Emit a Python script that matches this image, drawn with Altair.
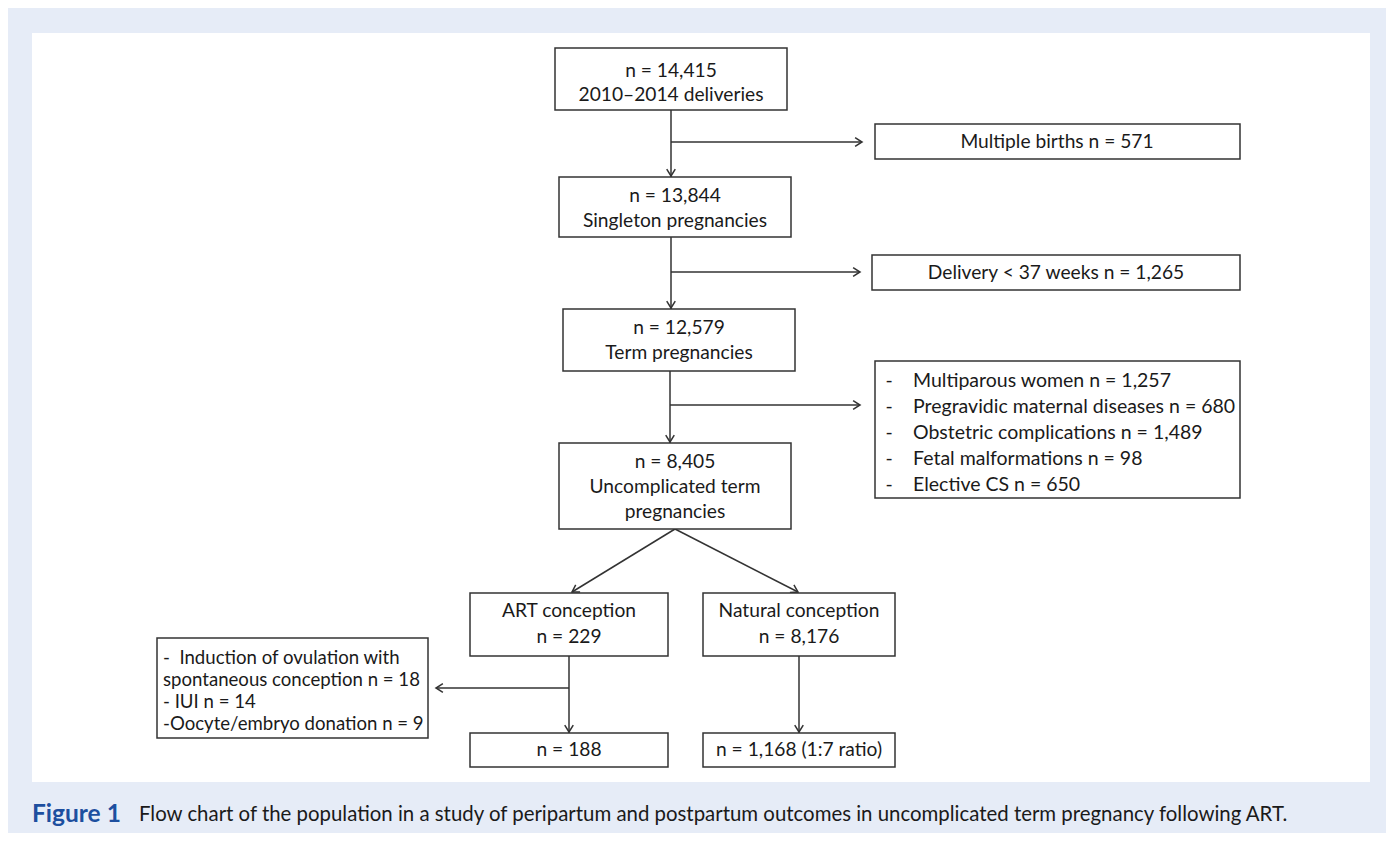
import altair as alt
import pandas as pd

# ---------------- data ----------------
# boxes of the flow chart (reference pixel coordinates)
BOX_NAME = ["total", "multiple", "singleton", "preterm", "term", "excluded",
            "uncomplicated", "art", "natural", "art_excluded", "art_final", "nat_final"]
BOX_X0 = [555, 875, 559, 872, 563, 875, 559, 470, 703, 157, 470, 703]
BOX_X1 = [787, 1240, 791, 1240, 795, 1240, 791, 668, 895, 428, 668, 895]
BOX_Y0 = [48, 124, 177, 255, 309, 361, 443, 593, 593, 638, 733, 733]
BOX_Y1 = [110, 159, 237, 290, 371, 498, 529, 656, 656, 738, 767, 767]

# connector lines
LINE_X0 = [671, 671, 671, 671, 670, 670, 675, 675, 569, 569, 799]
LINE_Y0 = [110, 142, 237, 272, 371, 405, 529, 529, 656, 688, 656]
LINE_X1 = [671, 862, 671, 860, 670, 860, 572, 798, 569, 436, 799]
LINE_Y1 = [177, 142, 309, 272, 443, 405, 592, 592, 733, 688, 733]

# arrow heads (tip positions and direction in degrees, clockwise from east)
HEAD_X = [671, 862, 671, 860, 670, 860, 572, 798, 569, 436, 799]
HEAD_Y = [176, 142, 308, 272, 442, 405, 592, 592, 732, 688, 732]
HEAD_ANGLE = [90, 0, 90, 0, 90, 0, 149, 28, 90, 180, 90]

# centred box labels
CENTER_TEXT = ["n = 14,415", "2010\u20132014 deliveries",
               "Multiple births n = 571",
               "n = 13,844", "Singleton pregnancies",
               "Delivery < 37 weeks n = 1,265",
               "n = 12,579", "Term pregnancies",
               "n = 8,405", "Uncomplicated term", "pregnancies",
               "ART conception", "n = 229",
               "Natural conception", "n = 8,176",
               "n = 188", "n = 1,168 (1:7 ratio)"]
CENTER_X = [671, 671, 1057, 675, 675, 1056, 679, 679, 675, 675, 675,
            569, 569, 799, 799, 569, 799]
CENTER_Y = [71, 95, 142, 196, 221, 273, 328, 353, 462, 487, 512,
            611, 637, 611, 637, 750, 750]

# exclusion list (after term pregnancies)
EXCL_TEXT = ["Multiparous women n = 1,257",
             "Pregravidic maternal diseases n = 680",
             "Obstetric complications n = 1,489",
             "Fetal malformations n = 98",
             "Elective CS n = 650"]
EXCL_Y = [381, 407, 433, 459, 485]
EXCL_DASH_X = 889
EXCL_TEXT_X = 913

# ART exclusions
ART_EXCL_TEXT = ["-\u00a0 Induction of ovulation with",
                 "spontaneous conception n = 18",
                 "- IUI n = 14",
                 "-Oocyte/embryo donation n = 9"]
ART_EXCL_Y = [658, 680, 702, 724]
ART_EXCL_X = 163

CAPTION_LABEL = "Figure 1"
CAPTION_TEXT = ("Flow chart of the population in a study of peripartum and postpartum "
                "outcomes in uncomplicated term pregnancy following ART.")

# ---------------- styling ----------------
FONT = "Lato"
BOX_FONT_SIZE = 19.2
LIST_FONT_SIZE = 19.5
ART_FONT_SIZE = 18.6
TEXT_COLOR = "#1a1a1a"
LINE_COLOR = "#333333"
BG = "#e6ecf7"

XS = alt.Scale(domain=[8, 1386], nice=False, zero=False)
YS = alt.Scale(domain=[8, 833], nice=False, zero=False, reverse=True)


def X(f):
    return alt.X(f, type="quantitative", scale=XS, axis=None)


def Y(f):
    return alt.Y(f, type="quantitative", scale=YS, axis=None)


panel = alt.Chart(pd.DataFrame({"x0": [32], "x1": [1370], "y0": [33], "y1": [782]})).mark_rect(
    fill="white").encode(x=X("x0"), x2="x1", y=Y("y0"), y2="y1")

boxes_df = pd.DataFrame({"name": BOX_NAME, "x0": BOX_X0, "x1": BOX_X1,
                         "y0": BOX_Y0, "y1": BOX_Y1})
boxes = alt.Chart(boxes_df).mark_rect(fill="white", stroke=LINE_COLOR, strokeWidth=1.5).encode(
    x=X("x0"), x2="x1", y=Y("y0"), y2="y1")

lines_df = pd.DataFrame({"x0": LINE_X0, "y0": LINE_Y0, "x1": LINE_X1, "y1": LINE_Y1})
lines = alt.Chart(lines_df).mark_rule(color=LINE_COLOR, strokeWidth=1.5).encode(
    x=X("x0"), y=Y("y0"), x2="x1", y2="y1")

heads_df = pd.DataFrame({"x": HEAD_X, "y": HEAD_Y, "a": HEAD_ANGLE})
heads = alt.Chart(heads_df).mark_point(
    shape="M -1 -0.62 L 0 0 L -1 0.62", filled=False, stroke=LINE_COLOR,
    strokeWidth=1.5, size=190, opacity=1).encode(
    x=X("x"), y=Y("y"), angle=alt.Angle("a:Q", scale=None))

center_df = pd.DataFrame({"t": CENTER_TEXT, "x": CENTER_X, "y": CENTER_Y})
center_text = alt.Chart(center_df).mark_text(
    font=FONT, fontSize=BOX_FONT_SIZE, color=TEXT_COLOR, align="center", baseline="middle").encode(
    x=X("x"), y=Y("y"), text="t:N")

excl_df = pd.DataFrame({"t": EXCL_TEXT, "y": EXCL_Y,
                        "dx": [EXCL_DASH_X] * len(EXCL_Y), "tx": [EXCL_TEXT_X] * len(EXCL_Y),
                        "dash": ["-"] * len(EXCL_Y)})
excl_dash = alt.Chart(excl_df).mark_text(
    font=FONT, fontSize=LIST_FONT_SIZE, color=TEXT_COLOR, align="center", baseline="middle").encode(
    x=X("dx"), y=Y("y"), text="dash:N")
excl_text = alt.Chart(excl_df).mark_text(
    font=FONT, fontSize=LIST_FONT_SIZE, color=TEXT_COLOR, align="left", baseline="middle").encode(
    x=X("tx"), y=Y("y"), text="t:N")

art_df = pd.DataFrame({"t": ART_EXCL_TEXT, "y": ART_EXCL_Y, "x": [ART_EXCL_X] * len(ART_EXCL_Y)})
art_text = alt.Chart(art_df).mark_text(
    font=FONT, fontSize=ART_FONT_SIZE, color=TEXT_COLOR, align="left", baseline="middle").encode(
    x=X("x"), y=Y("y"), text="t:N")

cap_df = pd.DataFrame({"t": [CAPTION_LABEL, CAPTION_TEXT], "x": [32, 139], "y": [815, 815],
                       "kind": ["label", "body"]})
cap_label = alt.Chart(cap_df[cap_df.kind == "label"]).mark_text(
    font=FONT, fontSize=24.5, fontWeight="bold", color="#1d4f9f", align="left", baseline="middle").encode(
    x=X("x"), y=Y("y"), text="t:N")
cap_body = alt.Chart(cap_df[cap_df.kind == "body"]).mark_text(
    font=FONT, fontSize=20.4, color=TEXT_COLOR, align="left", baseline="middle").encode(
    x=X("x"), y=Y("y"), text="t:N")

chart = alt.layer(panel, lines, heads, boxes, center_text, excl_dash, excl_text, art_text,
                  cap_label, cap_body).properties(
    width=1378, height=825,
    autosize=alt.AutoSizeParams(type="fit", contains="padding"),
    padding=0, background=BG,
).configure_view(stroke=None)

chart.save("out.html", embed_options={"renderer": "svg", "actions": False})
